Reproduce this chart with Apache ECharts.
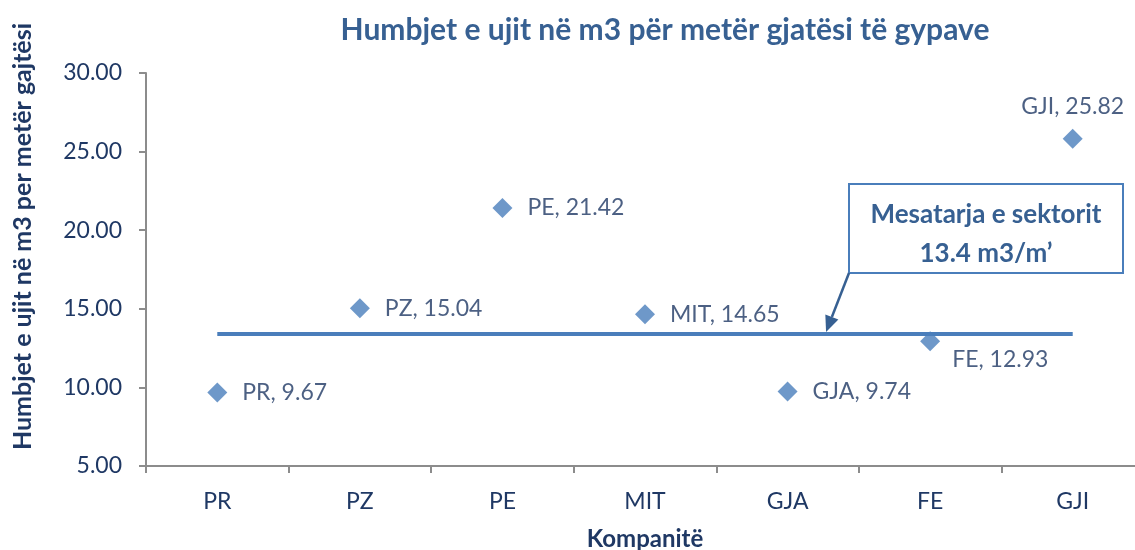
<!DOCTYPE html>
<html>
<head>
<meta charset="utf-8">
<script src="https://cdn.jsdelivr.net/npm/echarts@6/dist/echarts.min.js"></script>
<style>
  html, body { margin: 0; padding: 0; background: #fff; overflow: hidden; }
  /* plot area runs past the right edge in the original, so the canvas is a bit wider than the window */
  #chart { width: 1144px; height: 550px; }
</style>
</head>
<body>
<div id="chart"></div>
<script>
// kompanitë dhe humbjet (m3 / m')
const companies = ["PR", "PZ", "PE", "MIT", "GJA", "FE", "GJI"];
const losses = [9.67, 15.04, 21.42, 14.65, 9.74, 12.93, 25.82];
const sectorAvg = 13.4;
const yTicks = [5, 10, 15, 20, 25, 30];

const navy = "#1F3864";
const blue = "#4A7EBB";
const titleBlue = "#376092";
const font = "Lato";

// label placement per point, as in the original chart
const labelPos = { GJI: "top", FE: "below" };

const pointData = companies.map((c, i) => {
  const item = { value: losses[i], name: c };
  if (labelPos[c] === "top") {
    item.label = { position: "top", distance: 11 };
  } else if (labelPos[c] === "below") {
    item.label = { position: [32, 28], align: "left", verticalAlign: "middle" };
  }
  return item;
});

const chart = echarts.init(document.getElementById("chart"));
const option = {
  animation: false,
  textStyle: { fontFamily: font },
  title: {
    text: "Humbjet e ujit në m3 për metër gjatësi të gypave",
    left: 660,
    textAlign: "center",
    top: 10,
    textStyle: { fontFamily: font, fontSize: 30, fontWeight: "bold", color: titleBlue }
  },
  grid: { left: 146, right: 0, top: 73, bottom: 84, containLabel: false, outerBoundsMode: "none" },
  xAxis: {
    type: "category",
    data: companies,
    name: "Kompanitë",
    nameLocation: "middle",
    nameGap: 61,
    nameTextStyle: { fontFamily: font, fontSize: 24, fontWeight: "bold", color: navy },
    axisLine: { lineStyle: { color: "#8C8C8C", width: 2 } },
    axisTick: { show: true, length: 7, lineStyle: { color: "#8C8C8C", width: 2 } },
    axisLabel: { fontSize: 23, color: navy, margin: 24 }
  },
  yAxis: {
    type: "value",
    min: yTicks[0],
    max: yTicks[yTicks.length - 1],
    interval: 5,
    name: "Humbjet e ujit në m3 per metër gajtësi",
    nameLocation: "middle",
    nameGap: 111,
    nameTextStyle: {
      fontFamily: font, fontSize: 25, fontWeight: "bold", color: navy,
      padding: [0, 0, 0, 66]
    },
    axisLine: { show: true, lineStyle: { color: "#8C8C8C", width: 2 } },
    axisTick: { show: true, length: 7, lineStyle: { color: "#8C8C8C", width: 2 } },
    splitLine: { show: false },
    axisLabel: {
      fontSize: 23, color: navy, margin: 24,
      formatter: (v) => v.toFixed(2)
    }
  },
  series: [
    {
      name: "Mesatarja",
      type: "line",
      data: companies.map(() => sectorAvg),
      showSymbol: false,
      lineStyle: { color: blue, width: 4 },
      z: 1
    },
    {
      name: "Humbjet",
      type: "scatter",
      data: pointData,
      symbol: "diamond",
      symbolSize: 20,
      itemStyle: { color: blue },
      label: {
        show: true,
        position: "right",
        distance: 15,
        fontSize: 23,
        color: navy,
        formatter: (p) => p.name + ", " + p.value
      },
      z: 3
    }
  ]
};
chart.setOption(option);

// shënimi për mesataren e sektorit: shigjeta bie mbi vijën midis GJA dhe FE
const pGJA = chart.convertToPixel({ gridIndex: 0 }, ["GJA", sectorAvg]);
const pFE = chart.convertToPixel({ gridIndex: 0 }, ["FE", sectorAvg]);
const tip = [pGJA[0] + (pFE[0] - pGJA[0]) * 0.27, pGJA[1] - 2];
const boxX = 849, boxY = 184, boxW = 274, boxH = 89;
const start = [boxX, boxY + boxH];
const ang = Math.atan2(tip[1] - start[1], tip[0] - start[0]);
const headLen = 16, headHalf = 7;
const base = [tip[0] - headLen * Math.cos(ang), tip[1] - headLen * Math.sin(ang)];
const nx = -Math.sin(ang), ny = Math.cos(ang);

chart.setOption({
  graphic: [
    {
      type: "rect",
      shape: { x: boxX, y: boxY, width: boxW, height: boxH },
      style: { fill: "#fff", stroke: blue, lineWidth: 2 },
      z: 10
    },
    {
      type: "text",
      x: boxX + boxW / 2,
      y: boxY + 31,
      style: {
        text: "Mesatarja e sektorit",
        fontFamily: font, fontSize: 26, fontWeight: "bold",
        fill: titleBlue, align: "center", verticalAlign: "middle"
      },
      z: 11
    },
    {
      type: "text",
      x: boxX + boxW / 2,
      y: boxY + 70,
      style: {
        text: "13.4 m3/m’",
        fontFamily: font, fontSize: 26, fontWeight: "bold",
        fill: titleBlue, align: "center", verticalAlign: "middle"
      },
      z: 11
    },
    {
      type: "line",
      shape: { x1: start[0], y1: start[1], x2: base[0], y2: base[1] },
      style: { stroke: titleBlue, lineWidth: 2.5 },
      z: 11
    },
    {
      type: "polygon",
      shape: {
        points: [
          tip,
          [base[0] + nx * headHalf, base[1] + ny * headHalf],
          [base[0] - nx * headHalf, base[1] - ny * headHalf]
        ]
      },
      style: { fill: titleBlue },
      z: 11
    }
  ]
});
</script>
</body>
</html>
